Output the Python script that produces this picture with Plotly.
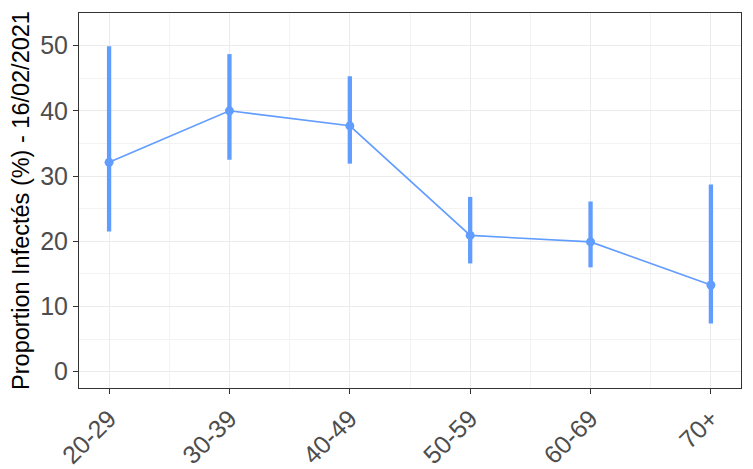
import plotly.graph_objects as go

categories = ["20-29", "30-39", "40-49", "50-59", "60-69", "70+"]
proportion = [32.1, 40.0, 37.7, 20.9, 19.9, 13.3]
ci_low = [21.5, 32.5, 31.9, 16.6, 16.0, 7.4]
ci_high = [49.9, 48.7, 45.3, 26.8, 26.1, 28.7]

xpos = list(range(len(categories)))
color = "#619CFF"

fig = go.Figure()
fig.add_trace(go.Scatter(
    x=xpos, y=proportion, mode="lines+markers",
    line=dict(color=color, width=1.6),
    marker=dict(color=color, size=9),
    error_y=dict(type="data", symmetric=False,
                 array=[h - p for h, p in zip(ci_high, proportion)],
                 arrayminus=[p - l for l, p in zip(ci_low, proportion)],
                 color=color, thickness=4.3, width=0),
    showlegend=False,
))

# page body has an 8px default margin; compensate
fig.update_layout(
    width=745, height=461,
    margin=dict(l=71, r=12, t=5, b=81),
    plot_bgcolor="white", paper_bgcolor="white",
    font=dict(family="Liberation Sans, Arial, sans-serif"),
)
fig.update_xaxes(
    range=[-0.25, 5.25], tickvals=xpos, ticktext=categories,
    tickangle=-45, tickfont=dict(size=25, color="#4D4D4D"),
    showgrid=True, gridcolor="#EBEBEB", gridwidth=1,
    minor=dict(dtick=1, tick0=0.5, showgrid=True, gridcolor="#F3F3F3", gridwidth=1, ticks=""),
    ticks="outside", ticklen=5, tickcolor="#333333",
    showline=True, linecolor="#333333", linewidth=1, mirror=True,
    zeroline=False, automargin=False,
)
fig.update_yaxes(
    range=[-2.5, 55], tickvals=[0, 10, 20, 30, 40, 50],
    tickfont=dict(size=25, color="#4D4D4D"),
    showgrid=True, gridcolor="#EBEBEB", gridwidth=1,
    minor=dict(dtick=10, tick0=5, showgrid=True, gridcolor="#F3F3F3", gridwidth=1, ticks=""),
    ticks="outside", ticklen=5, tickcolor="#333333",
    showline=True, linecolor="#333333", linewidth=1, mirror=True,
    zeroline=False, automargin=False,
    title=dict(text="Proportion Infectés (%) - 16/02/2021", font=dict(size=23.5, color="black"), standoff=5),
)

fig.write_html("out.html")
